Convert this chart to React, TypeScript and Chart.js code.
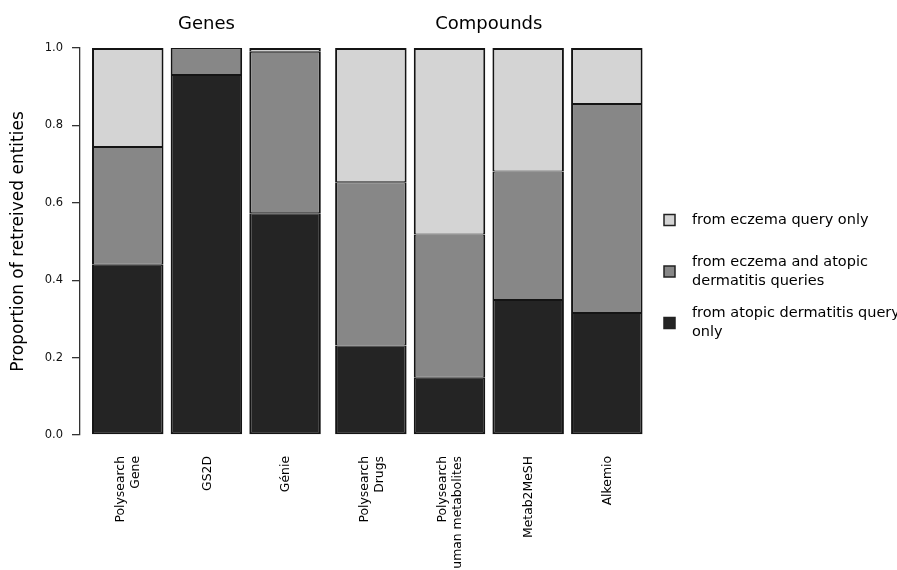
import React, { useEffect, useRef } from "react";
import { Chart, registerables } from "chart.js";

Chart.register(...registerables);

// ---------- data ----------
const categories: string[][] = [
  ["Polysearch", "Gene"],
  ["GS2D"],
  ["Génie"],
  ["Polysearch", "Drugs"],
  ["Polysearch", "Human metabolites"],
  ["Metab2MeSH"],
  ["Alkemio"],
];
const groupOf: string[] = ["Genes", "Genes", "Genes", "Compounds", "Compounds", "Compounds", "Compounds"];
const groupTitles: string[] = ["Genes", "Compounds"];

const atopicOnly: number[] = [0.44, 0.93, 0.573, 0.231, 0.148, 0.349, 0.315];
const bothQueries: number[] = [0.304, 0.07, 0.417, 0.422, 0.37, 0.332, 0.54];
const eczemaOnly: number[] = [0.256, 0, 0.01, 0.347, 0.482, 0.319, 0.145];

const seriesNames: string[] = [
  "from atopic dermatitis query only",
  "from eczema and atopic dermatitis queries",
  "from eczema query only",
];
const legendLines: string[][] = [
  ["from atopic dermatitis query", "only"],
  ["from eczema and atopic", "dermatitis queries"],
  ["from eczema query only"],
];
const yTicks: number[] = [0, 0.2, 0.4, 0.6, 0.8, 1.0];
const yTitle = "Proportion of retreived entities";

// ---------- layout helpers (R barplot style spacing) ----------
const FONT = '"DejaVu Sans", "Liberation Sans", Arial, sans-serif';
const barSpace = 0.1;
const groupSpace = 0.2;
const centers: number[] = (() => {
  const out: number[] = [];
  let pos = 0;
  categories.forEach((_, i) => {
    const sp = i > 0 && groupOf[i] !== groupOf[i - 1] ? groupSpace : barSpace;
    pos += sp;
    out.push(pos + 0.5);
    pos += 1;
  });
  return out;
})();

const toPoints = (vals: number[]) => vals.map((v, i) => ({ x: centers[i], y: v }));

const overlayPlugin = {
  id: "overlay",
  afterDraw(chart: any) {
    const ctx: CanvasRenderingContext2D = chart.ctx;
    const xs = chart.scales.x;
    const area = chart.chartArea;
    ctx.save();
    ctx.fillStyle = "#000";

    // group titles
    ctx.font = `18px ${FONT}`;
    ctx.textAlign = "center";
    ctx.textBaseline = "alphabetic";
    groupTitles.forEach((g) => {
      const idx = groupOf.map((gg, i) => (gg === g ? i : -1)).filter((i) => i >= 0);
      const a = xs.getPixelForValue(centers[idx[0]]);
      const b = xs.getPixelForValue(centers[idx[idx.length - 1]]);
      ctx.fillText(g, (a + b) / 2, area.top - 19.5);
    });

    // rotated category labels
    ctx.font = `12.4px ${FONT}`;
    ctx.textAlign = "right";
    ctx.textBaseline = "middle";
    const lineSp = 15;
    categories.forEach((lines, i) => {
      const px = xs.getPixelForValue(centers[i]) + 1;
      ctx.save();
      ctx.translate(px, area.bottom + 21);
      ctx.rotate(-Math.PI / 2);
      lines.forEach((ln, k) => {
        const off = (k - (lines.length - 1) / 2) * lineSp;
        ctx.fillText(ln, 0, off);
      });
      ctx.restore();
    });

    // legend (top item = last dataset)
    ctx.font = `14.5px ${FONT}`;
    ctx.textAlign = "left";
    ctx.textBaseline = "middle";
    const ds = chart.data.datasets;
    const itemCenters = [172, 223.5, 275];
    for (let k = 0; k < ds.length; k++) {
      const di = ds.length - 1 - k;
      const cy = area.top + itemCenters[k];
      const sx = area.right + 14;
      ctx.fillStyle = ds[di].backgroundColor;
      ctx.fillRect(sx, cy - 5.5, 11, 11);
      ctx.strokeStyle = "#222";
      ctx.lineWidth = 1.5;
      ctx.strokeRect(sx, cy - 5.5, 11, 11);
      ctx.fillStyle = "#000";
      const lines = legendLines[di];
      lines.forEach((ln, j) => {
        const off = (j - (lines.length - 1) / 2) * 19;
        ctx.fillText(ln, area.right + 42, cy + off);
      });
    }
    ctx.restore();
  },
};

export default function App() {
  const ref = useRef<HTMLCanvasElement | null>(null);

  useEffect(() => {
    if (!ref.current) return;
    const chart = new Chart(ref.current, {
      type: "bar",
      data: {
        datasets: [
          {
            label: seriesNames[0],
            data: toPoints(atopicOnly),
            backgroundColor: "#242424",
            borderColor: "#141414",
            borderWidth: { top: 1, bottom: 2, left: 2, right: 2 },
            borderSkipped: false,
          },
          {
            label: seriesNames[1],
            data: toPoints(bothQueries),
            backgroundColor: "#878787",
            borderColor: "#141414",
            borderWidth: { top: 1, bottom: 1, left: 2, right: 2 },
            borderSkipped: false,
          },
          {
            label: seriesNames[2],
            data: toPoints(eczemaOnly),
            backgroundColor: "#d4d4d4",
            borderColor: "#141414",
            borderWidth: { top: 2, bottom: 1, left: 2, right: 2 },
            borderSkipped: false,
          },
        ] as any,
      },
      options: {
        animation: false,
        responsive: true,
        maintainAspectRatio: false,
        events: [],
        layout: { padding: { top: 48, right: 247, bottom: 0, left: 0 } },
        datasets: { bar: { barPercentage: 1 / 1.1, categoryPercentage: 1 } } as any,
        plugins: {
          legend: { display: false },
          tooltip: { enabled: false },
          title: { display: false },
        },
        scales: {
          x: {
            type: "linear",
            stacked: true,
            offset: false,
            min: -0.068,
            max: 7.904,
            grid: { display: false, drawTicks: false, offset: false },
            border: { display: false },
            ticks: { display: false },
            afterBuildTicks: (scale: any) => {
              scale.ticks = centers.map((v) => ({ value: v }));
            },
            afterFit: (scale: any) => {
              scale.height = 135;
              scale.paddingLeft = 0;
              scale.paddingRight = 0;
            },
          },
          y: {
            type: "linear",
            stacked: true,
            min: 0,
            max: 1,
            afterBuildTicks: (scale: any) => {
              scale.ticks = yTicks.map((v) => ({ value: v }));
            },
            ticks: {
              color: "#111",
              font: { family: FONT, size: 11.5 },
              padding: 9,
              callback: (v: any) => Number(v).toFixed(1),
            },
            grid: {
              display: true,
              drawOnChartArea: false,
              drawTicks: true,
              tickLength: 8,
              color: "#333",
              lineWidth: 1.3,
            },
            border: { display: true, color: "#333", width: 1.3 },
            title: {
              display: true,
              text: yTitle,
              color: "#000",
              font: { family: FONT, size: 17 },
              padding: { top: 8, bottom: 0 },
            },
            afterFit: (scale: any) => {
              scale.width = 80;
              scale.paddingTop = 0;
              scale.paddingBottom = 0;
            },
          },
        },
      },
      plugins: [overlayPlugin],
    });
    return () => chart.destroy();
  }, []);

  return (
    <div style={{ position: "fixed", left: 0, top: 0, width: 897, height: 570, background: "#fff" }}>
      <canvas ref={ref} />
    </div>
  );
}
